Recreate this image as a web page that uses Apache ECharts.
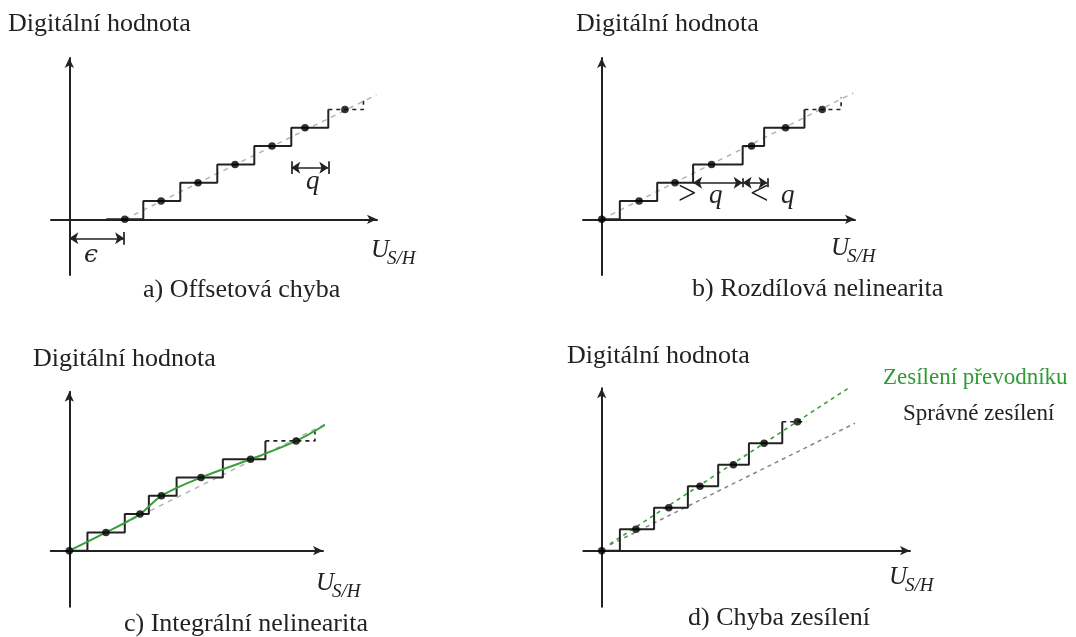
<!DOCTYPE html>
<html>
<head>
<meta charset="utf-8">
<script src="https://cdn.jsdelivr.net/npm/echarts@6/dist/echarts.min.js"></script>
<style>
  html, body { margin: 0; padding: 0; background: #fff; }
  #chart { width: 1076px; height: 637px; }
</style>
</head>
<body>
<div id="chart"></div>
<script>
// digital codes (y value of each step)
const codes = [0, 1, 2, 3, 4, 5, 6];

// a) offset error, x in units of q
const aStart = 1;
const aRises = [2, 3, 4, 5, 6, 7];
const aEnd = 7.95;
const aDotX = [1.5, 2.48, 3.48, 4.48, 5.48, 6.37, 7.45];
const aIdeal = [[1.5, 0], [8.3, 6.8]];
const aQ = [6, 7, 2.82];       // from, to, height
const aEps = [0, 1.48, -1.04];

// b) differential nonlinearity
const bStart = 0;
const bRises = [0.49, 1.5, 2.47, 3.81, 4.39, 5.48];
const bEnd = 6.47;
const bDotX = [0, 1.01, 1.98, 2.97, 4.05, 4.97, 5.96];
const bIdeal = [[0, 0], [6.8, 6.9]];
const bWide = [2.47, 3.81, 2];
const bNarrow = [3.81, 4.48, 2];

// c) integral nonlinearity
const cStart = 0;
const cRises = [0.49, 1.5, 2.15, 2.9, 4.15, 5.3];
const cEnd = 6.64;
const cDotX = [0, 0.99, 1.91, 2.49, 3.56, 4.9, 6.13];
const cIdeal = [[0, 0], [6.9, 6.9]];
const cCurveX = [0, 0.99, 1.91, 2.49, 3.56, 4.9, 6.13, 7.05];
const cCurveY = [0, 1, 2, 3, 4, 5, 6, 7.05];

// d) gain error
const dStart = 0;
const dRises = [0.42, 1.21, 1.99, 2.69, 3.4, 4.17];
const dEnd = 4.73;
const dDotX = [0, 0.79, 1.55, 2.27, 3.04, 3.75, 4.52];
const dActual = [[0.19, 0.31], [5.87, 7.79]];
const dIdeal = [[0.19, 0.27], [5.85, 5.93]];

const endTick = 0.65;

// pixel layout of each panel: origin, px per unit, axis extents (arrow tips)
const panels = [
  { ox: 69.3, oy: 219.3, ux: 37, uy: 18.3, xl: 51, xr: 382, yt: 53, yb: 275 },
  { ox: 601.7, oy: 219.3, ux: 37, uy: 18.3, xl: 583, xr: 860, yt: 53, yb: 275 },
  { ox: 69.3, oy: 550.7, ux: 37, uy: 18.3, xl: 50.7, xr: 328, yt: 386.7, yb: 606.7 },
  { ox: 601.7, oy: 550.7, ux: 43.3, uy: 21.5, xl: 583.3, xr: 915, yt: 383.3, yb: 606.7 }
];

const INK = '#222';
const GREY = '#b0b0b0';
const GREEN = '#38a038';
const AH = 5;
const SERIF = '"Liberation Serif", "DejaVu Serif", serif';

const grids = [], xAxes = [], yAxes = [];
const axisLine = {
  onZero: true,
  symbol: ['none', 'arrow'],
  symbolSize: [7, 10],
  lineStyle: { color: INK, width: 2 }
};
panels.forEach((p, i) => {
  const right = p.xr - AH, top = p.yt + AH;
  grids.push({ left: p.xl, top: top, width: right - p.xl, height: p.yb - top });
  xAxes.push({
    type: 'value', gridIndex: i,
    min: (p.xl - p.ox) / p.ux, max: (right - p.ox) / p.ux,
    axisLine: axisLine, axisTick: { show: false }, axisLabel: { show: false }, splitLine: { show: false }
  });
  yAxes.push({
    type: 'value', gridIndex: i,
    min: -(p.yb - p.oy) / p.uy, max: (p.oy - top) / p.uy,
    axisLine: axisLine, axisTick: { show: false }, axisLabel: { show: false }, splitLine: { show: false }
  });
});

function stairPts(start, rises) {
  const pts = [[start, codes[0]]];
  rises.forEach((r, k) => { pts.push([r, codes[k]], [r, codes[k + 1]]); });
  return pts;
}
function line(i, data, style, extra) {
  return Object.assign({
    type: 'line', xAxisIndex: i, yAxisIndex: i, data: data,
    symbol: 'none', silent: true, animation: false, lineStyle: style, z: 3
  }, extra || {});
}
function dots(i, xs) {
  return {
    type: 'scatter', xAxisIndex: i, yAxisIndex: i, silent: true, animation: false,
    data: xs.map((x, k) => [x, codes[k]]),
    symbolSize: 7.5, itemStyle: { color: '#000' }, z: 6
  };
}
function segs(i, list, arrows) {
  return {
    type: 'lines', coordinateSystem: 'cartesian2d', xAxisIndex: i, yAxisIndex: i,
    silent: true, animation: false, z: 4,
    symbol: arrows ? ['arrow', 'arrow'] : ['none', 'none'], symbolSize: 9,
    itemStyle: { color: INK },
    lineStyle: { color: INK, width: 1.7, opacity: 1 },
    data: list.map(c => ({ coords: c }))
  };
}
function staircase(i, start, rises, end, tick) {
  const top = codes[rises.length];
  const last = rises[rises.length - 1];
  const dash = [[last, top], [end, top]];
  if (tick) dash.push([end, top + endTick]);
  return [
    line(i, stairPts(start, rises), { color: INK, width: 2 }),
    line(i, dash, { color: INK, width: 1.6, type: [4, 4] })
  ];
}
const idealStyle = { color: GREY, width: 1.4, type: [5, 5] };

const series = [].concat(
  // a
  line(0, aIdeal, idealStyle, { z: 2 }),
  staircase(0, aStart, aRises, aEnd, true),
  dots(0, aDotX),
  segs(0, [[[aQ[0], aQ[2]], [aQ[1], aQ[2]]], [[aEps[0], aEps[2]], [aEps[1], aEps[2]]]], true),
  segs(0, [[[aQ[0], aQ[2] - 0.35], [aQ[0], aQ[2] + 0.35]], [[aQ[1], aQ[2] - 0.35], [aQ[1], aQ[2] + 0.35]],
           [[aEps[1], aEps[2] - 0.35], [aEps[1], aEps[2] + 0.35]]], false),
  // b
  line(1, bIdeal, idealStyle, { z: 2 }),
  staircase(1, bStart, bRises, bEnd, true),
  dots(1, bDotX),
  segs(1, [[[bWide[0], bWide[2]], [bWide[1], bWide[2]]], [[bNarrow[0], bNarrow[2]], [bNarrow[1], bNarrow[2]]]], true),
  segs(1, [[[bNarrow[0], bNarrow[2] - 0.25], [bNarrow[0], bNarrow[2] + 0.25]],
           [[bNarrow[1], bNarrow[2] - 0.25], [bNarrow[1], bNarrow[2] + 0.25]]], false),
  // c
  line(2, cIdeal, idealStyle, { z: 2 }),
  staircase(2, cStart, cRises, cEnd, true),
  line(2, cCurveX.map((x, k) => [x, cCurveY[k]]), { color: GREEN, width: 2 }, { smooth: 0.35, z: 5 }),
  dots(2, cDotX),
  // d
  line(3, dIdeal, { color: '#858585', width: 1.5, type: [4, 4] }, { z: 2 }),
  line(3, dActual, { color: GREEN, width: 1.6, type: [4, 4] }, { z: 2 }),
  staircase(3, dStart, dRises, dEnd, false),
  dots(3, dDotX)
);

function txt(x, base, text, size, extra) {
  return {
    type: 'text', x: x, y: base - 0.34 * size, silent: true,
    style: Object.assign({
      text: text, font: size + 'px ' + SERIF, fill: INK,
      textAlign: 'left', verticalAlign: 'middle'
    }, extra || {})
  };
}
function ital(x, base, text, size, extra) {
  return txt(x, base, text, size, Object.assign({ font: 'italic ' + size + 'px ' + SERIF }, extra || {}));
}
function uLabel(x, base) {
  return [ital(x, base, 'U', 25), ital(x + 16, base + 6, 'S/H', 19)];
}

const graphic = [].concat(
  txt(8, 33, 'Digitální hodnota', 26),
  txt(143, 299, 'a) Offsetová chyba', 26),
  uLabel(371, 259),
  ital(306, 191, 'q', 27),
  txt(84, 264, '\u03F5', 25, { font: 'italic 25px "DejaVu Serif", serif' }),

  txt(576, 33, 'Digitální hodnota', 26),
  txt(692, 298, 'b) Rozdílová nelinearita', 26),
  uLabel(831, 257),
  txt(678, 207, '>', 33),
  ital(709, 205, 'q', 27),
  txt(750, 207, '<', 33),
  ital(781, 205, 'q', 27),

  txt(33, 368, 'Digitální hodnota', 26),
  txt(124, 633, 'c) Integrální nelinearita', 26),
  uLabel(316, 592),

  txt(567, 365, 'Digitální hodnota', 26),
  txt(688, 627, 'd) Chyba zesílení', 26),
  uLabel(889, 586),
  txt(883, 386, 'Zesílení převodníku', 23, { fill: '#2e9b34' }),
  txt(903, 422, 'Správné zesílení', 23)
);

const chart = echarts.init(document.getElementById('chart'));
chart.setOption({
  backgroundColor: '#fff',
  animation: false,
  grid: grids,
  xAxis: xAxes,
  yAxis: yAxes,
  series: series,
  graphic: graphic
});
</script>
</body>
</html>
